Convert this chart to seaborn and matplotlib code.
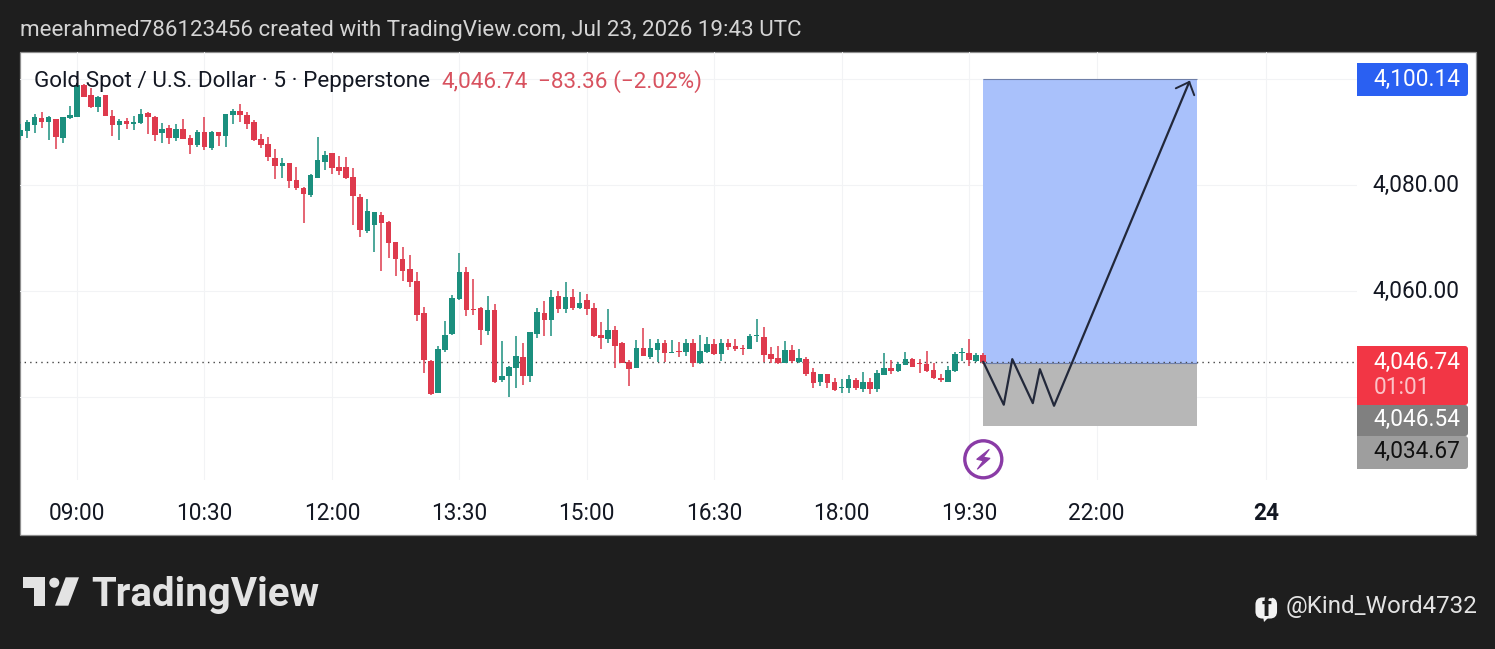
import numpy as np
import pandas as pd
import seaborn as sns
import matplotlib
matplotlib.use("Agg")
import matplotlib.pyplot as plt
from matplotlib.patches import Rectangle, FancyBboxPatch, Polygon, Circle
from matplotlib.transforms import ScaledTranslation

# ---------- data ----------
first_bar = -8   # bars are numbered from the 09:00 candle
open_ = [
4089.3,4090.3,4091.4,4092.7,4091.9,4092.5,4088.9,4092.7,
4092.9,4098.9,4097.0,4094.8,4097.0,4093.1,4091.4,4092.1,4091.6,4091.8,
4093.6,4092.8,4089.9,4090.8,4088.9,4090.6,4088.9,4087.6,4090.1,4087.0,
4090.1,4089.3,4093.3,4094.0,4093.3,4091.9,4088.7,4087.8,4085.2,4083.6,
4084.2,4081.0,4079.5,4078.2,4081.4,4084.4,4086.1,4083.5,4083.5,
4081.6,4077.7,4071.4,4072.5,4074.4,4073.1,4069.3,4066.1,4064.2,4061.9,
4055.9,4046.8,4040.8,4048.9,4051.9,4058.5,4063.6,4056.7,4056.8,4052.5,
4056.5,4043.3,4044.0,4045.5,4047.6,4044.0,4051.9,4055.9,4054.6,4059.1,
4056.7,4058.9,4056.8,4058.4,4056.8,4051.8,4051.0,4052.7,4050.2,4046.7,
4045.5,4049.3,4047.6,4048.9,4050.2,4048.4,
4048.7,4048.5,4050.2,4046.5,4048.5,4050.1,4048.2,4050.2,4049.7,4049.3,
4049.1,4051.6,4051.4,4048.2,4047.4,4046.5,4048.9,4046.7,4047.2,4044.8,
4042.9,4044.4,4042.9,4041.7,4041.8,4043.3,4041.6,4042.9,4041.6,4044.2,
4045.5,4045.0,4046.1,4047.2,4046.5,4046.3,4045.2,4043.6,4042.9,4045.0,
4048.4,4048.4,4046.9,4048.0]
high = [
4091.6,4092.3,4093.5,4093.8,4093.0,4092.5,4092.8,4095.0,
4098.9,4099.1,4098.4,4096.9,4097.0,4094.2,4092.5,4092.7,4093.1,4094.4,
4093.8,4093.1,4091.8,4091.4,4091.6,4092.5,4089.5,4090.4,4092.9,4090.2,
4090.1,4093.5,4094.4,4095.3,4093.8,4092.3,4089.7,4089.1,4086.9,4085.2,
4084.2,4083.5,4079.7,4082.1,4089.1,4086.5,4086.1,4085.5,4085.3,
4083.2,4078.4,4077.4,4075.0,4075.0,4073.3,4069.3,4068.4,4066.8,4063.6,
4057.0,4047.0,4049.7,4054.4,4059.3,4067.2,4064.6,4062.3,4057.0,4059.1,
4057.6,4050.6,4045.9,4051.6,4050.2,4052.3,4056.8,4058.2,4060.2,4060.1,
4061.8,4060.4,4059.9,4059.5,4057.8,4054.2,4056.7,4053.5,4050.4,4047.0,
4050.8,4053.1,4051.0,4051.0,4050.8,4050.8,
4050.4,4051.0,4051.0,4051.8,4051.4,4051.0,4051.0,4051.0,4051.0,4049.9,
4051.9,4054.8,4053.3,4049.5,4049.7,4050.6,4049.9,4049.1,4047.6,4045.5,
4044.4,4044.4,4043.6,4043.5,4044.2,4043.6,4044.8,4043.6,4045.2,4048.4,
4047.0,4046.7,4048.5,4047.4,4047.2,4048.7,4046.5,4044.4,4045.9,4048.5,
4049.3,4051.0,4048.4,4048.4]
low = [
4088.5,4088.9,4089.9,4090.8,4088.5,4086.9,4088.0,4092.5,
4092.9,4096.7,4094.6,4093.8,4093.1,4089.3,4088.5,4090.6,4090.4,4091.6,
4089.7,4088.4,4088.0,4087.8,4088.4,4088.7,4085.9,4087.2,4086.7,4086.7,
4087.4,4087.2,4091.6,4091.9,4090.6,4088.4,4087.0,4084.6,4081.2,4081.4,
4079.5,4079.1,4072.9,4077.8,4081.4,4082.9,4082.1,4081.9,4081.2,
4072.5,4070.2,4071.0,4067.4,4063.8,4066.2,4062.9,4061.9,4060.8,4054.4,
4044.6,4040.4,4040.8,4048.5,4051.8,4058.4,4055.3,4055.5,4049.9,4051.8,
4042.7,4042.9,4040.1,4041.8,4042.3,4042.9,4051.2,4051.6,4051.6,4055.9,
4055.9,4056.5,4056.7,4055.5,4051.4,4049.1,4050.2,4045.5,4046.5,4042.1,
4045.5,4047.8,4047.2,4046.7,4046.7,4048.4,
4047.6,4047.8,4045.7,4046.3,4048.4,4048.0,4046.9,4048.9,4048.7,4048.0,
4049.1,4050.4,4046.7,4046.5,4046.3,4046.5,4046.5,4046.5,4044.0,4041.8,
4042.1,4041.8,4041.2,4040.8,4040.8,4041.4,4041.0,4040.6,4041.0,4044.2,
4044.4,4044.8,4046.1,4045.7,4044.6,4044.8,4043.5,4042.9,4042.9,4044.8,
4046.9,4045.9,4046.7,4046.3]
close = [
4090.4,4091.9,4092.9,4091.9,4092.8,4089.1,4092.8,4093.3,
4098.9,4096.7,4094.8,4096.7,4093.1,4091.4,4092.2,4091.6,4091.9,4093.5,
4092.9,4089.5,4090.6,4088.9,4090.6,4088.7,4087.6,4090.1,4087.2,4090.1,
4089.3,4093.5,4094.0,4093.3,4091.6,4088.5,4087.6,4085.3,4083.6,4084.2,
4080.8,4079.5,4078.4,4081.9,4084.8,4085.7,4083.3,4082.7,4081.4,
4077.9,4071.6,4075.2,4075.0,4072.9,4069.1,4066.1,4063.8,4061.8,4055.5,
4047.0,4040.6,4049.1,4051.8,4058.7,4063.6,4056.5,4056.5,4052.7,4056.5,
4042.9,4044.0,4045.7,4047.8,4044.0,4052.3,4056.1,4054.6,4058.9,4056.7,
4058.9,4056.8,4057.8,4056.7,4051.6,4051.2,4052.7,4049.7,4046.5,4045.3,
4049.3,4047.8,4049.3,4050.2,4048.4,4048.5,
4048.5,4050.2,4046.5,4048.7,4050.1,4048.2,4050.2,4049.5,4049.1,4049.1,
4051.6,4051.8,4048.0,4047.2,4046.5,4048.9,4046.9,4047.4,4044.4,4042.7,
4044.4,4042.7,4041.4,4041.9,4043.5,4041.8,4042.9,4041.6,4044.6,4045.5,
4045.0,4046.3,4047.2,4045.7,4046.3,4045.0,4043.6,4043.3,4045.2,4048.2,
4048.5,4047.0,4048.0,4046.74]

time_tick_bars = [0, 18, 36, 54, 72, 90, 108, 126, 144, 168]
time_tick_labels = ["09:00", "10:30", "12:00", "13:30", "15:00", "16:30",
                    "18:00", "19:30", "22:00", "24"]
price_ticks = [4040, 4060, 4080, 4100]
price_tick_labels = ["", "4,060.00", "4,080.00", ""]

last_price = 4046.74
target_price = 4100.14
entry_price = 4046.54
stop_price = 4034.67
position_start_bar = 128
position_end_bar = 158.2
path_bars = [128, 130.9, 132.1, 135, 136, 138, 157.1]
path_prices = [4046.7, 4038.6, 4047.2, 4038.9, 4045.3, 4038.4, 4099.5]
head_bars = [155.2, 157.1, 157.8]
head_prices = [4098.3, 4099.5, 4097.0]

# ---------- style ----------
sns.set_theme(style="white")
plt.rcParams["font.family"] = ["Roboto", "DejaVu Sans"]

BG = "#1e1e1e"
UP = "#1b8f7e"
DOWN = "#de3a4d"
GRID = "#f2f3f5"
W, H = 1495, 649
fig = plt.figure(figsize=(W / 100, H / 100), dpi=100, facecolor=BG)

# full-figure layer in pixel coordinates for the frame and decorations
under = fig.add_axes([0, 0, 1, 1], zorder=0)
under.set_xlim(0, W); under.set_ylim(H, 0); under.axis("off")
under.add_patch(Rectangle((19.5, 52), 1456, 483, fc="white", ec="#8e8e8e", lw=0.9))

over = fig.add_axes([0, 0, 1, 1], zorder=3)
over.set_xlim(0, W); over.set_ylim(H, 0); over.axis("off"); over.patch.set_alpha(0)

# chart pane
L_PX, R_PX, T_PX, B_PX = 20, 1357, 52, 480
ax = fig.add_axes([L_PX / W, 1 - B_PX / H, (R_PX - L_PX) / W, (B_PX - T_PX) / H], zorder=1)
ax.patch.set_alpha(0)

df = pd.DataFrame({"bar": np.arange(first_bar, first_bar + len(close)),
                   "open": open_, "high": high, "low": low, "close": close})
df["top"] = df[["open", "close"]].max(axis=1)
df["bottom"] = df[["open", "close"]].min(axis=1)
df["body"] = (df["top"] - df["bottom"]).clip(lower=0.2)
df["up"] = df["close"] >= df["open"]

# position tool under the candles
ax.add_patch(Rectangle((position_start_bar, entry_price),
                       position_end_bar - position_start_bar, target_price - entry_price,
                       fc="#a9c1fb", ec="none", zorder=2))
ax.add_patch(Rectangle((position_start_bar, stop_price),
                       position_end_bar - position_start_bar, entry_price - stop_price,
                       fc="#b7b7b7", ec="none", zorder=2))
ax.hlines([target_price, entry_price], position_start_bar, position_end_bar,
          color="#6f7fa8", lw=0.8, zorder=2.5)

ax.hlines(last_price, first_bar - 1, 181, color="#444444", lw=1,
          linestyles=(0, (1, 3)), zorder=2.2)

for is_up, col in [(True, UP), (False, DOWN)]:
    part = df[df["up"] == is_up]
    ax.vlines(part["bar"], part["low"], part["high"], color=col, lw=1.1, zorder=3)
    sns.barplot(data=part, x="bar", y="body", bottom=part["bottom"].to_numpy(),
                native_scale=True, errorbar=None, color=col, saturation=1,
                width=0.78, linewidth=0, ax=ax, zorder=4)

# drawing on the position tool
sns.lineplot(x=path_bars, y=path_prices, sort=False, color="#22283a", lw=1.6,
             errorbar=None, ax=ax, zorder=5)
sns.lineplot(x=head_bars, y=head_prices, sort=False, color="#22283a", lw=1.4,
             errorbar=None, ax=ax, zorder=5)

ax.set_xlim((L_PX - 77) / 7.08, (R_PX - 77) / 7.08)
ax.set_ylim(4040 - (B_PX - 397.3) / 5.3, 4040 + (397.3 - T_PX) / 5.3)
ax.set_xlabel(""); ax.set_ylabel("")
ax.set_xticks(time_tick_bars, time_tick_labels)
ax.set_yticks(price_ticks, price_tick_labels)
ax.yaxis.tick_right()
ax.tick_params(axis="both", length=0, labelsize=16.3, colors="#131722")
ax.tick_params(axis="x", pad=15.5)
ax.tick_params(axis="y", pad=11)
ax.get_xticklabels()[-1].set_fontweight("bold")
up_shift = ScaledTranslation(0, 1.6 / 72, fig.dpi_scale_trans)
for lab in ax.get_yticklabels():
    lab.set_transform(lab.get_transform() + up_shift)
ax.grid(True, color=GRID, lw=0.75)
ax.set_axisbelow(True)
for s in ax.spines.values():
    s.set_visible(False)

# header, legend
over.text(20, 30.5, "meerahmed786123456 created with TradingView.com, Jul 23, 2026 19:43 UTC",
          color="#d4d4d4", fontsize=16.1, va="center", ha="left")
over.text(34, 82, "Gold Spot / U.S. Dollar · 5 · Pepperstone", color="#131722",
          fontsize=16.17, va="center", ha="left")
over.text(441, 82, "4,046.74", color="#d8525f", fontsize=16.2, va="center", ha="left")
over.text(538, 82, "−83.36 (−2.02%)", color="#d8525f", fontsize=16.2, va="center", ha="left")

# price scale labels
def price_box(y0, y1, col):
    over.add_patch(FancyBboxPatch((1357, y0), 111, y1 - y0,
                                  boxstyle="round,pad=0,rounding_size=3", fc=col, ec="none"))
    over.add_patch(Rectangle((1357, y0), 40, y1 - y0, fc=col, ec="none"))

price_box(63, 96, "#2a60f2")
price_box(346, 405, "#f23645")
price_box(405, 436, "#808080")
price_box(436, 469, "#9e9e9e")
over.text(1373.5, 79, f"{target_price:,.2f}", color="white", fontsize=16.3, va="center")
over.text(1373.5, 362.5, f"{last_price:,.2f}", color="white", fontsize=16.3, va="center")
over.text(1373.5, 387.5, "01:01", color="#fbc3c8", fontsize=16.3, va="center")
over.text(1373.5, 419.5, f"{entry_price:,.2f}", color="white", fontsize=16.3, va="center")
over.text(1373.5, 451.5, f"{stop_price:,.2f}", color="#111111", fontsize=16.3, va="center")

# event marker
over.add_patch(Circle((983.3, 459.3), 18.5, fc="white", ec="#8a3ba6", lw=2.4))
over.add_patch(Polygon([(989.3, 449.3), (976.7, 459.3), (983.3, 460.7), (977.3, 469.3),
                        (990, 458.3), (983.3, 457.3)],
                       closed=True, fc="#8a3ba6", ec="#8a3ba6", lw=0.8))

# TradingView logo
lg = "#e3e3e3"
over.add_patch(Polygon([(22.7, 577.3), (45, 577.3), (45, 605.7), (34, 605.7), (34, 588.3), (22.7, 588.3)],
                       closed=True, fc=lg, ec="none"))
over.add_patch(Circle((54.3, 582.7), 5, fc=lg, ec="none"))
over.add_patch(Polygon([(65.7, 577.3), (79, 577.3), (68.3, 605.7), (55, 605.7)],
                       closed=True, fc=lg, ec="none"))
over.text(91, 606, "TradingView", color=lg, fontsize=29, fontweight="bold", va="baseline", ha="left")

# credit
over.add_patch(FancyBboxPatch((1256.5, 598.5), 19.5, 19, boxstyle="round,pad=0,rounding_size=6",
                              fc="#f2f2f2", ec="#f2f2f2", lw=1.5))
over.add_patch(Polygon([(1263, 616), (1270, 616), (1264, 622)], closed=True, fc="#f2f2f2", ec="none"))
over.text(1266.5, 609, "f", color=BG, fontsize=20, fontweight="bold", va="center", ha="center")
over.text(1286, 607, "@Kind_Word4732", color="#e3e3e3", fontsize=17.35, va="center", ha="left")

fig.savefig("out.png", dpi=100, facecolor=BG)
